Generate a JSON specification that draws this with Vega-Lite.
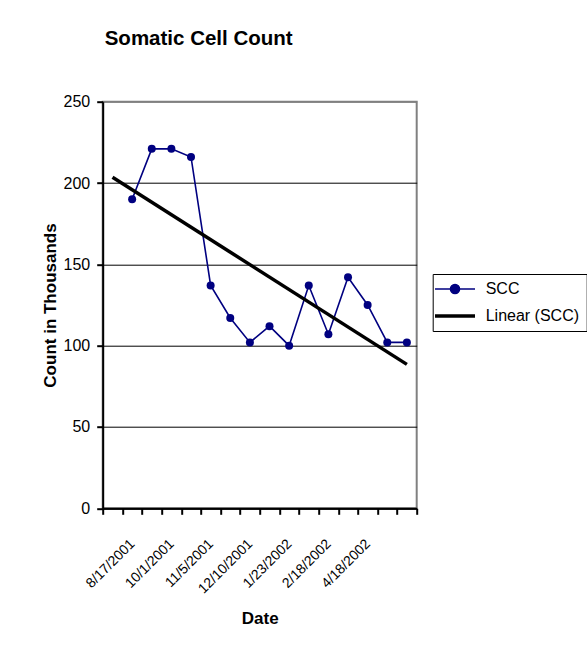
{
  "$schema": "https://vega.github.io/schema/vega-lite/v6.json",
  "autosize": "none",
  "width": 314,
  "height": 406.6,
  "padding": {"left": 102.7, "top": 101.7, "right": 170.3, "bottom": 141.7},
  "background": "white",
  "title": {
    "text": "Somatic Cell Count",
    "anchor": "start",
    "frame": "group",
    "font": "Liberation Sans",
    "fontSize": 20.5,
    "fontWeight": "bold",
    "color": "black",
    "baseline": "alphabetic",
    "offset": 28,
    "dx": 2
  },
  "config": {
    "view": {"stroke": "#808080", "strokeWidth": 2},
    "axis": {
      "labelFont": "Liberation Sans",
      "titleFont": "Liberation Sans",
      "labelColor": "black",
      "titleColor": "black",
      "domainColor": "black",
      "tickColor": "black"
    }
  },
  "datasets": {
    "scc": [
      {"Date": "8/17/2001", "SCC": 190},
      {"Date": "9/10/2001", "SCC": 221},
      {"Date": "10/1/2001", "SCC": 221},
      {"Date": "10/17/2001", "SCC": 216},
      {"Date": "11/5/2001", "SCC": 137},
      {"Date": "11/20/2001", "SCC": 117},
      {"Date": "12/10/2001", "SCC": 102},
      {"Date": "1/3/2002", "SCC": 112},
      {"Date": "1/23/2002", "SCC": 100},
      {"Date": "2/5/2002", "SCC": 137},
      {"Date": "2/18/2002", "SCC": 107},
      {"Date": "3/19/2002", "SCC": 142},
      {"Date": "4/18/2002", "SCC": 125},
      {"Date": "5/9/2002", "SCC": 102},
      {"Date": "5/30/2002", "SCC": 102}
    ],
    "trend": [
      {"Date": "", "Trend": 203.5},
      {"Date": "5/30/2002", "Trend": 88.5}
    ]
  },
  "encoding": {
    "x": {
      "field": "Date",
      "type": "ordinal",
      "scale": {
        "type": "band",
        "paddingInner": 0,
        "paddingOuter": 0,
        "domain": ["", "8/17/2001", "9/10/2001", "10/1/2001", "10/17/2001", "11/5/2001", "11/20/2001", "12/10/2001", "1/3/2002", "1/23/2002", "2/5/2002", "2/18/2002", "3/19/2002", "4/18/2002", "5/9/2002", "5/30/2002"]
      },
      "axis": {
        "title": "Date",
        "titleFontSize": 17,
        "titleFontWeight": "bold",
        "titleBaseline": "alphabetic",
        "titleY": 115,
        "labelAngle": -45,
        "labelAlign": "right",
        "labelBaseline": "middle",
        "labelFontSize": 14,
        "labelPadding": 27,
        "labelOverlap": false,
        "labelExpr": "indexof(['8/17/2001','10/1/2001','11/5/2001','12/10/2001','1/23/2002','2/18/2002','4/18/2002'], datum.label) >= 0 ? datum.label : ''",
        "tickBand": "extent",
        "tickSize": 6,
        "tickWidth": 2,
        "domainWidth": 2,
        "grid": false
      }
    }
  },
  "layer": [
    {
      "data": {"name": "scc"},
      "mark": {"type": "line", "strokeWidth": 1.6},
      "encoding": {
        "y": {
          "field": "SCC",
          "type": "quantitative",
          "scale": {"domain": [0, 250], "nice": false},
          "axis": {
            "title": "Count in Thousands",
            "titleFontSize": 17,
            "titleFontWeight": "bold",
            "titleBaseline": "alphabetic",
            "titleX": -47,
            "values": [0, 50, 100, 150, 200, 250],
            "labelFontSize": 16,
            "labelPadding": 7,
            "tickSize": 6,
            "tickWidth": 2,
            "domainWidth": 2,
            "grid": true,
            "gridColor": {"condition": {"test": "datum.value === 250", "value": "#808080"}, "value": "black"},
            "gridWidth": 1,
            "gridOpacity": 1
          }
        },
        "color": {
          "datum": "SCC",
          "scale": {"domain": ["SCC", "Linear (SCC)"], "range": ["#000080", "black"]},
          "legend": {
            "orient": "none",
            "legendX": 330,
            "legendY": 172.3,
            "title": null,
            "strokeColor": "black",
            "padding": 7,
            "symbolSize": 484,
            "rowPadding": 11,
            "labelFont": "Liberation Sans",
            "labelFontSize": 16,
            "labelColor": "black",
            "labelOffset": 30,
            "encode": {
              "symbols": {
                "update": {
                  "shape": {"signal": "datum.value === 'SCC' ? 'M-1.154,0H2.482M1.074,0A0.41,0.41,0,1,1,0.254,0A0.41,0.41,0,1,1,1.074,0Z' : 'M-1.154,0H2.482'"},
                  "fill": {"signal": "datum.value === 'SCC' ? '#000080' : 'transparent'"},
                  "stroke": {"signal": "datum.value === 'SCC' ? '#000080' : 'black'"},
                  "strokeWidth": {"signal": "datum.value === 'SCC' ? 1.6 : 3.5"},
                  "opacity": {"value": 1},
                  "fillOpacity": {"value": 1},
                  "strokeOpacity": {"value": 1}
                }
              }
            }
          }
        }
      }
    },
    {
      "data": {"name": "scc"},
      "mark": {"type": "point", "filled": true, "size": 64, "opacity": 1},
      "encoding": {
        "y": {"field": "SCC", "type": "quantitative"},
        "color": {"datum": "SCC"}
      }
    },
    {
      "data": {"name": "trend"},
      "mark": {"type": "line", "strokeWidth": 3.5},
      "encoding": {
        "y": {"field": "Trend", "type": "quantitative"},
        "color": {"datum": "Linear (SCC)"}
      }
    }
  ]
}
